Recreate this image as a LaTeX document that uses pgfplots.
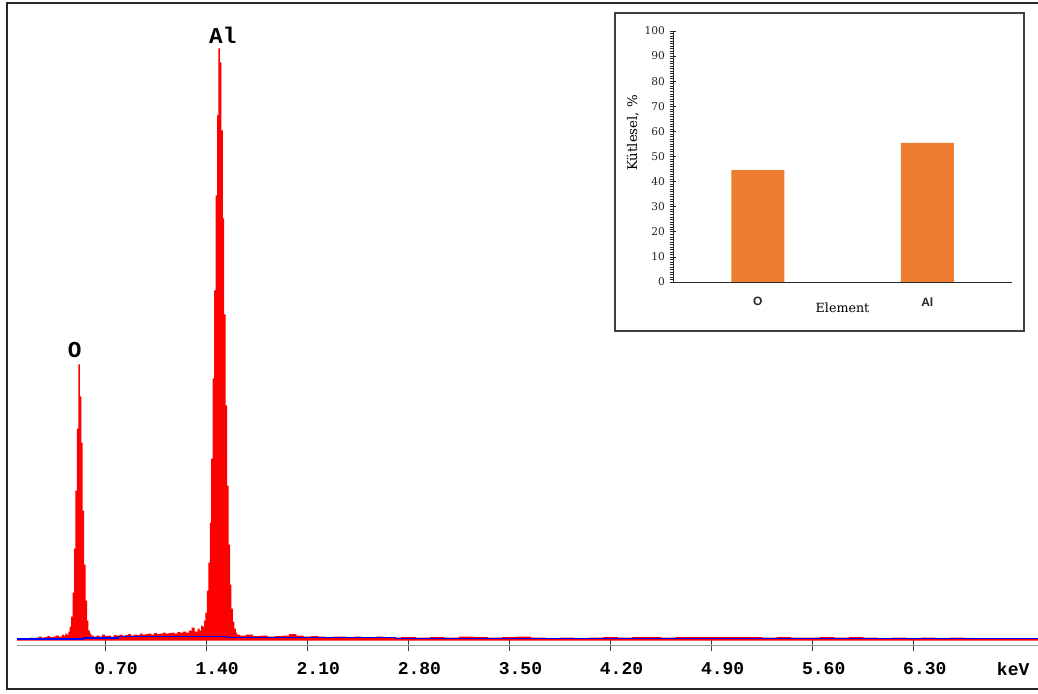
\documentclass[border=0pt]{standalone}
\usepackage{fontspec}
\usepackage{pgfplots}
\usepackage{pgfplotstable}
\pgfplotsset{compat=1.18}
\setmainfont{DejaVu Serif}
\newfontfamily\mono{Liberation Mono}
\newfontfamily\lsans{Liberation Sans}
\definecolor{barorange}{HTML}{ED7D31}

% EDS spectrum: energy (keV) and counts
\pgfplotstableread{
kev counts
0.09 1.5
0.11 2
0.13 1.5
0.15 2.5
0.17 2
0.19 3
0.21 2.5
0.23 3
0.25 4
0.27 3
0.29 3.5
0.31 4.5
0.33 3.5
0.35 4
0.37 5
0.39 4
0.41 6
0.42 5
0.43 7
0.44 6
0.45 9
0.46 14
0.47 24
0.48 48
0.49 92
0.50 150
0.51 212
0.52 276
0.53 244
0.54 198
0.55 130
0.56 76
0.57 40
0.58 20
0.59 10
0.60 7
0.61 5
0.63 4
0.65 5
0.67 4
0.69 6
0.71 4.5
0.73 5
0.75 4
0.77 5.5
0.79 5
0.81 6
0.83 5
0.85 5.5
0.87 6.5
0.89 5
0.91 6
0.93 5.5
0.95 7
0.97 6
0.99 6.5
1.01 7
1.03 6
1.05 7.5
1.07 6.5
1.09 7
1.11 8
1.13 7
1.15 7.5
1.17 8
1.19 7
1.21 8.5
1.23 8
1.25 9
1.27 8
1.29 10
1.31 13
1.33 9
1.35 12
1.36 10
1.37 15
1.38 14
1.39 20
1.40 28
1.41 50
1.42 78
1.43 118
1.44 182
1.45 262
1.46 350
1.47 445
1.48 525
1.49 592
1.50 578
1.51 510
1.52 422
1.53 326
1.54 235
1.55 155
1.56 96
1.57 56
1.58 32
1.59 19
1.60 12
1.61 8
1.62 6
1.65 5
1.70 6
1.75 4.5
1.80 5
1.85 4
1.90 4.5
1.95 5
2.00 6.5
2.05 5
2.10 4
2.15 4.5
2.20 4
2.25 3.5
2.30 4
2.35 4
2.40 3.5
2.45 4
2.50 3.5
2.55 3
2.60 4
2.65 3.5
2.70 3
2.8 3.5
2.9 3
3.0 3.5
3.1 3
3.2 4
3.3 3.5
3.4 3
3.5 3.5
3.6 4
3.7 3
3.8 2.5
3.9 3
4.0 2.5
4.1 3
4.2 3.5
4.3 3
4.4 3.5
4.5 3.5
4.6 3
4.7 3.5
4.8 3.5
4.9 3.5
5.0 3.5
5.1 3.5
5.2 3.5
5.3 3
5.4 3.5
5.5 3
5.6 3
5.7 3.5
5.8 3
5.9 3.5
6.0 3
6.1 2.5
6.2 3
6.3 2.5
6.4 3
6.5 2.5
6.6 3
6.7 2.5
6.8 2.5
6.9 2.5
7.0 2
7.1 2
7.16 2
}\spectrum

% fitted background
\pgfplotstableread{
kev bg
0.09 1.5
0.55 1.5
0.55 2.5
0.79 2.5
0.79 3.8
1.54 3.8
1.54 2.8
2.71 2.8
2.71 1.8
7.16 1.8
}\background

% mass fractions
\pgfplotstableread{
idx mass
0 44.6
1 55.4
}\composition

\begin{document}
\begin{tikzpicture}
\path[use as bounding box] (0,0) rectangle (778.5pt,519.75pt);
\draw[line width=1.9pt, black!85] (800pt,517.5pt) -- (5.25pt,517.5pt) -- (5.25pt,3pt) -- (800pt,3pt);

\begin{axis}[
  at={(12.75pt,35.625pt)}, anchor=south west,
  width=765.75pt, height=468.75pt, scale only axis,
  xmin=0.09, xmax=7.16, ymin=-5, ymax=620,
  axis x line=bottom, axis y line=none,
  axis line style={-},
  x axis line style={gray!75, line width=1.4pt},
  xtick={0.7,1.4,2.1,2.8,3.5,4.2,4.9,5.6,6.3},
  xticklabels={0.70,1.40,2.10,2.80,3.50,4.20,4.90,5.60,6.30},
  tick align=center, major tick length=8.25pt,
  xtick style={black!75, line width=0.75pt},
  xticklabel style={font=\mono\bfseries\fontsize{13.5}{14}\selectfont, anchor=base, xshift=8.25pt, yshift=-17.5pt},
  clip=false,
]
\addplot[fill=red, draw=none, const plot mark mid] table[x=kev,y=counts]{\spectrum} \closedcycle;
\addplot[blue, line width=0.8pt] table[x=kev,y=bg]{\background};
\node[font=\mono\bfseries\fontsize{17}{18}\selectfont] at (axis cs:0.49,290) {O};
\node[font=\mono\bfseries\fontsize{17}{18}\selectfont] at (axis cs:1.515,605) {Al};
\node[font=\mono\bfseries\fontsize{13.5}{14}\selectfont, anchor=base] at (axis cs:6.988,-34.5) {keV};
\end{axis}

\filldraw[draw=black!75, fill=white, line width=0.9pt] (461.25pt,271.5pt) rectangle (768pt,510pt);

\begin{axis}[
  at={(504.75pt,308.25pt)}, anchor=south west,
  width=254.25pt, height=188.25pt, scale only axis,
  xmin=-0.5, xmax=1.5, ymin=0, ymax=100,
  axis x line=bottom, axis y line=left,
  axis line style={-, black!85, line width=0.6pt},
  ybar, bar width=39.75pt,
  xtick={0,1}, xticklabels={O,Al}, xtick style={draw=none},
  ytick={0,10,...,100}, minor y tick num=9,
  tick align=center, major tick length=5pt, minor tick length=2.6pt,
  ytick style={black!85, line width=0.5pt},
  minor y tick style={black!85, line width=0.35pt, xshift=-1.2pt},
  /pgf/number format/assume math mode=true,
  yticklabel style={font=\fontsize{8}{9}\selectfont, text=black!85},
  xticklabel style={font=\lsans\bfseries\fontsize{9}{10}\selectfont, text=black!85, anchor=center, yshift=-12.4pt},
  xlabel={Element}, ylabel={Kütlesel, \%},
  every axis x label/.style={at={(axis description cs:0.5,-0.104)}, anchor=center, font=\fontsize{9.5}{10}\selectfont},
  every axis y label/.style={at={(axis description cs:-0.118,0.594)}, rotate=90, anchor=center, font=\fontsize{10}{11}\selectfont},
]
\addplot[fill=barorange, draw=none] table[x=idx,y=mass]{\composition};
\end{axis}
\end{tikzpicture}
\end{document}
